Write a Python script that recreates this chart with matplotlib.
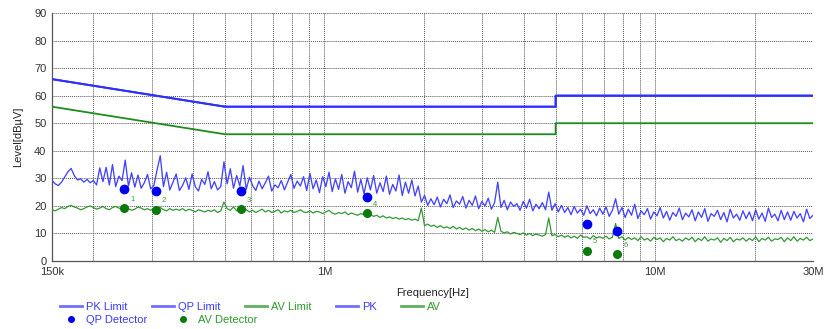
import numpy as np
import matplotlib
matplotlib.use('Agg')
import matplotlib.pyplot as plt
from matplotlib.lines import Line2D
from matplotlib.ticker import FixedLocator, NullFormatter, LogLocator

plt.rcParams['font.family'] = ['Liberation Sans', 'DejaVu Sans']

# limit lines (frequency in Hz, level in dBuV)
limit_freq = [150e3, 500e3, 5e6, 5e6, 30e6]
pk_limit = [66, 56, 56, 60, 60]
qp_limit = [66, 56, 56, 60, 60]
av_limit = [56, 46, 46, 50, 50]

# scan traces, 240 sweep points from 150k to 30M (log spaced)
n_points = 240
pk_trace = [
    29.2, 28.0, 27.4, 28.6, 30.5, 32.4, 33.6, 31.0, 29.4, 29.8, 28.6, 29.6, 28.4, 29.2, 27.6, 33.8, 28.8, 34.0, 27.6, 35.0,
    27.0, 30.8, 29.2, 36.6, 27.2, 32.0, 26.8, 31.2, 26.4, 28.4, 31.4, 26.2, 27.4, 33.0, 38.2, 27.0, 32.2, 25.8, 28.6, 31.6,
    25.6, 27.4, 30.2, 26.0, 31.6, 27.0, 25.4, 29.6, 27.8, 32.4, 26.2, 28.8, 25.8, 27.0, 36.0, 28.0, 33.5, 26.4, 31.0, 27.2,
    34.6, 26.0, 30.4, 27.4, 25.6, 29.0, 26.2, 28.4, 30.8, 25.4, 27.6, 26.6, 29.2, 25.8, 28.6, 31.4, 26.4, 29.0, 27.2, 30.6,
    25.6, 31.8, 26.2, 29.4, 24.8, 30.6, 27.0, 32.2, 25.2, 29.8, 26.0, 31.4, 24.6, 28.8, 26.6, 32.6, 25.0, 29.6, 24.4, 30.2,
    25.8, 31.0, 24.6, 28.4, 25.2, 30.8, 24.2, 27.8, 25.4, 31.2, 23.8, 28.6, 24.6, 29.4, 23.6, 27.2, 21.4, 23.8, 20.2, 22.6,
    20.4, 23.2, 19.6, 22.4, 20.8, 24.0, 19.4, 21.8, 20.6, 23.4, 19.2, 22.0, 20.2, 23.6, 19.0, 21.6, 20.0, 22.8, 18.8, 21.2,
    28.6, 19.4, 22.0, 18.6, 21.4, 19.8, 20.8, 18.4, 21.6, 19.2, 22.4, 18.2, 20.6, 19.0, 21.2, 18.6, 25.0, 18.4, 20.8, 17.8,
    20.2, 17.6, 19.4, 16.8, 19.8, 17.4, 18.8, 16.6, 20.0, 17.2, 18.6, 16.4, 19.2, 17.0, 19.6, 16.2, 18.4, 22.6, 17.0, 19.4,
    15.8, 18.8, 16.6, 20.6, 15.4, 18.2, 16.8, 19.0, 15.2, 17.8, 16.4, 19.4, 15.6, 18.0, 14.8, 17.6, 16.2, 19.2, 15.0, 17.4,
    16.0, 18.6, 14.6, 17.8, 15.8, 19.0, 14.4, 17.2, 16.2, 18.4, 15.0, 17.6, 14.2, 18.8, 15.6, 17.0, 14.8, 18.2, 15.4, 17.8,
    14.6, 18.6, 15.2, 17.4, 14.4, 19.2, 15.8, 17.0, 14.6, 18.4, 15.0, 17.8, 14.8, 18.0, 15.6, 17.2, 14.2, 18.8, 15.4, 16.6,
]
av_trace = [
    18.6, 18.2, 18.8, 19.4, 19.0, 19.8, 20.2, 19.6, 19.2, 18.6, 19.0, 19.6, 20.0, 19.4, 18.8, 19.2, 19.8, 19.0, 18.6, 19.4,
    19.8, 19.2, 18.8, 19.4, 19.0, 18.4, 18.8, 19.6, 19.2, 18.6, 19.0, 18.4, 19.2, 18.8, 19.4, 18.6, 18.2, 19.0, 18.4, 18.8,
    18.4, 19.0, 18.2, 18.8, 18.4, 17.8, 18.6, 18.2, 17.8, 18.4, 18.0, 18.6, 17.6, 18.2, 21.4, 19.0, 18.4, 19.6, 18.2, 18.8,
    18.0, 18.6, 17.8, 18.4, 17.6, 18.2, 18.8, 17.8, 18.4, 17.6, 18.0, 18.6, 17.4, 18.2, 17.8, 18.4, 17.6, 18.0, 18.6, 17.8,
    17.6, 18.2, 17.4, 18.0, 17.8, 17.2, 17.8, 18.4, 17.4, 17.0, 17.6, 17.2, 17.8, 16.8, 17.4, 17.0, 16.6, 17.2, 16.8, 16.4,
    16.8, 16.2, 16.6, 15.8, 16.4, 15.6, 16.0, 15.4, 15.8, 15.2, 15.6, 15.0, 15.4, 14.8, 15.2, 14.6, 19.2, 12.8, 13.4, 12.6,
    13.0, 12.2, 12.8, 12.0, 12.4, 11.8, 12.6, 11.6, 12.2, 11.4, 12.0, 11.2, 11.8, 11.0, 11.6, 10.8, 11.4, 10.6, 11.2, 10.4,
    15.8, 10.8, 10.2, 10.6, 9.8, 10.4, 10.0, 9.6, 10.2, 9.4, 10.0, 9.2, 9.8, 9.4, 9.0, 9.6, 15.6, 9.2, 9.6, 8.8,
    9.4, 8.6, 9.2, 8.4, 9.0, 8.2, 9.4, 8.6, 8.8, 8.0, 9.2, 8.4, 8.8, 8.2, 9.0, 8.0, 8.6, 13.6, 8.2, 8.8,
    7.6, 8.6, 7.8, 8.4, 7.4, 8.8, 7.6, 8.2, 7.2, 8.6, 7.8, 8.4, 7.0, 8.2, 7.6, 8.8, 7.4, 8.0, 7.2, 8.4,
    7.6, 8.6, 7.0, 8.2, 7.4, 8.8, 7.2, 8.0, 7.6, 8.4, 6.8, 8.2, 7.4, 8.6, 7.0, 8.0, 7.6, 8.4, 7.2, 8.2,
    7.4, 8.8, 7.0, 8.2, 7.6, 8.6, 7.2, 8.0, 7.8, 8.6, 7.0, 8.4, 7.4, 8.8, 7.2, 8.2, 7.6, 8.6, 7.4, 8.0,
]
scan_freq = np.geomspace(150e3, 30e6, n_points)

# final measurement points
meas_freq = [248e3, 309e3, 558e3, 1.34e6, 6.21e6, 7.66e6]
qp_values = [26.1, 25.5, 25.5, 23.2, 13.4, 10.9]
av_values = [19.1, 18.5, 18.8, 17.3, 3.7, 2.4]
meas_labels = ['1', '2', '3', '4', '5', '6']

blue = '#2f2fff'
green = '#1e8c1e'

fig = plt.figure(figsize=(8.24, 3.29), dpi=100)
ax = fig.add_axes([52/824, 1 - 261/329, 761/824, 248/329])

ax.plot(scan_freq, pk_trace, color='#4444ff', lw=0.95, zorder=3)
ax.plot(scan_freq, av_trace, color='#349834', lw=0.9, zorder=3)
ax.plot(limit_freq, pk_limit, color=blue, lw=1.4, zorder=4)
ax.plot(limit_freq, qp_limit, color=blue, lw=1.4, zorder=4)
ax.plot(limit_freq, av_limit, color=green, lw=1.3, zorder=4)
ax.plot(meas_freq, qp_values, 'o', color='#0000ee', ms=6, zorder=5)
ax.plot(meas_freq, av_values, 'o', color='#0a7a0a', ms=5.5, zorder=5)
for f, v, s in zip(meas_freq, av_values, meas_labels):
    ax.annotate(s, (f, v), xytext=(4.5, 5.5), textcoords='offset points',
                fontsize=5.5, color='#3a9a3a', zorder=6)

ax.set_xscale('log')
ax.set_xlim(150e3, 30e6)
ax.set_ylim(0, 90)
ax.xaxis.set_major_locator(FixedLocator([150e3, 1e6, 10e6, 30e6]))
ax.set_xticklabels(['150k', '1M', '10M', '30M'])
ax.xaxis.set_minor_locator(LogLocator(base=10, subs=np.arange(2, 10), numticks=20))
ax.xaxis.set_minor_formatter(NullFormatter())
ax.set_yticks(range(0, 91, 10))

ax.grid(True, which='both', color='#555555', lw=0.7, ls=(0, (1, 1)))
ax.tick_params(which='both', length=0, labelsize=8, labelcolor='#333333', pad=4)
for side in ['top', 'right']:
    ax.spines[side].set_visible(False)
for side in ['left', 'bottom']:
    ax.spines[side].set_color('#555555')
    ax.spines[side].set_linewidth(0.9)

ax.set_xlabel('Frequency[Hz]', fontsize=8, color='#222222', labelpad=8)
ax.set_ylabel('Level[dBµV]', fontsize=8, color='#222222', labelpad=8)

# legend rows
row1 = [Line2D([], [], color='#7070ff', lw=2),
        Line2D([], [], color='#7070ff', lw=2),
        Line2D([], [], color='#60b060', lw=2),
        Line2D([], [], color='#7070ff', lw=2),
        Line2D([], [], color='#60b060', lw=2)]
row1_labels = ['PK Limit', 'QP Limit', 'AV Limit', 'PK', 'AV']
row1_colors = ['#3a3aff', '#3a3aff', '#2e9a2e', '#3a3aff', '#2e9a2e']
leg1 = fig.legend(row1, row1_labels, loc='upper left', bbox_to_anchor=(60/824, 1 - 302/329),
                  ncol=5, frameon=False, fontsize=8, handlelength=2.0, handletextpad=0.35,
                  columnspacing=2.2, borderpad=0, borderaxespad=0)
for t, c in zip(leg1.get_texts(), row1_colors):
    t.set_color(c)

row2 = [Line2D([], [], ls='', marker='o', color='#0000ee', ms=4),
        Line2D([], [], ls='', marker='o', color='#0a7a0a', ms=4)]
leg2 = fig.legend(row2, ['QP Detector', 'AV Detector'], loc='upper left',
                  bbox_to_anchor=(60/824, 1 - 315/329), ncol=2, frameon=False, fontsize=8,
                  handlelength=2.0, handletextpad=0.35, columnspacing=2.2,
                  borderpad=0, borderaxespad=0)
for t, c in zip(leg2.get_texts(), ['#3a3aff', '#2e9a2e']):
    t.set_color(c)

fig.savefig('out.png', dpi=100)
